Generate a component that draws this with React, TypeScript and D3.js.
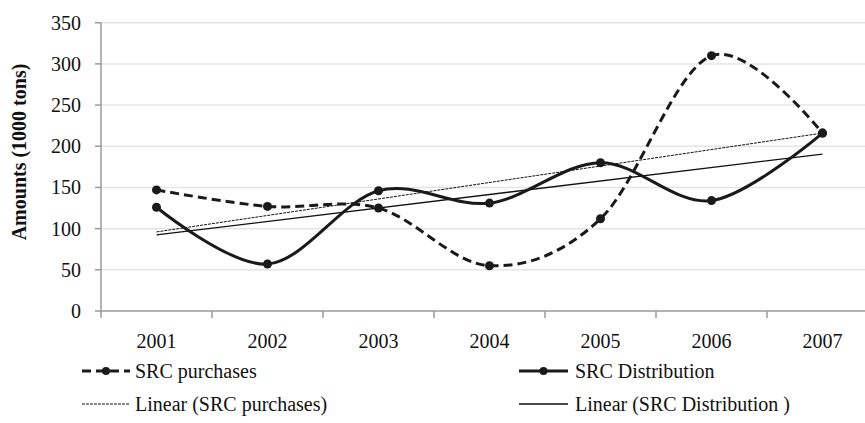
import React from "react";
import * as d3 from "d3";

const years = ["2001", "2002", "2003", "2004", "2005", "2006", "2007"];
const purchases = [147, 127, 125, 55, 112, 310, 216];
const distribution = [126, 57, 146, 131, 180, 134, 216];
const yTicks = [0, 50, 100, 150, 200, 250, 300, 350];

const W = 865;
const H = 423;
const FONT = '"Liberation Serif", "Times New Roman", Times, serif';
const txt = { fontFamily: FONT } as React.CSSProperties;

function linearFit(vals: number[]) {
  const n = vals.length;
  const xs = vals.map((_, i) => i + 1);
  const mx = d3.mean(xs)!;
  const my = d3.mean(vals)!;
  let num = 0, den = 0;
  xs.forEach((x, i) => { num += (x - mx) * (vals[i] - my); den += (x - mx) * (x - mx); });
  const slope = num / den;
  const icpt = my - slope * mx;
  return [icpt + slope * 1, icpt + slope * n];
}

export default function App() {
  const x = d3.scaleBand<string>().domain(years).range([101, 878]);
  const cx = (yr: string) => x(yr)! + x.bandwidth() / 2;
  const y = d3.scaleLinear().domain([0, 350]).range([311, 22.7]);

  const line = d3.line<number>()
    .x((_, i) => cx(years[i]))
    .y((d) => y(d))
    .curve(d3.curveCardinal.tension(0));

  const tp = linearFit(purchases);
  const td = linearFit(distribution);
  const first = cx(years[0]);
  const last = cx(years[years.length - 1]);

  const tickXs = years.map((yr) => x(yr)!).concat([x(years[years.length - 1])! + x.bandwidth()]);

  return (
    <svg width={W} height={H} style={{ position: "absolute", left: 0, top: 0, background: "#fff", fontFamily: FONT }}>
      {/* gridlines */}
      {yTicks.filter((t) => t > 0).map((t) => (
        <line key={t} x1={101} x2={878} y1={y(t)} y2={y(t)} stroke="#e4e4e4" strokeWidth={1.5} />
      ))}
      {/* y axis */}
      <line x1={101} x2={101} y1={y(350)} y2={y(0)} stroke="#9a9a9a" strokeWidth={1.5} />
      {yTicks.map((t) => (
        <g key={t}>
          <line x1={95} x2={101} y1={y(t)} y2={y(t)} stroke="#9a9a9a" strokeWidth={1.5} />
          <text x={81} y={y(t)} dy="0.35em" textAnchor="end" fontSize={20} fill="#111" style={txt}>{t}</text>
        </g>
      ))}
      {/* x axis */}
      <line x1={101} x2={878} y1={y(0)} y2={y(0)} stroke="#9a9a9a" strokeWidth={1.5} />
      {tickXs.map((tx, i) => (
        <line key={i} x1={tx} x2={tx} y1={y(0)} y2={y(0) + 7} stroke="#9a9a9a" strokeWidth={1.5} />
      ))}
      {years.map((yr) => (
        <text key={yr} x={cx(yr)} y={348} textAnchor="middle" fontSize={20} fill="#111" style={txt}>{yr}</text>
      ))}
      {/* y title */}
      <text transform={`translate(26,152) rotate(-90)`} textAnchor="middle" fontSize={20} fontWeight="bold" fill="#111" style={txt}>
        Amounts (1000 tons)
      </text>

      {/* trend lines */}
      <line x1={first} x2={last} y1={y(tp[0])} y2={y(tp[1])} stroke="#111" strokeWidth={1} strokeDasharray="3,1" />
      <line x1={first} x2={last} y1={y(td[0])} y2={y(td[1])} stroke="#111" strokeWidth={1.3} />

      {/* series */}
      <path d={line(purchases)!} fill="none" stroke="#1a1a1a" strokeWidth={3} strokeDasharray="9,5" />
      <path d={line(distribution)!} fill="none" stroke="#1a1a1a" strokeWidth={3} />
      {purchases.map((v, i) => (
        <circle key={"p" + i} cx={cx(years[i])} cy={y(v)} r={4.5} fill="#1a1a1a" />
      ))}
      {distribution.map((v, i) => (
        <circle key={"d" + i} cx={cx(years[i])} cy={y(v)} r={4.5} fill="#1a1a1a" />
      ))}

      {/* legend */}
      <g>
        <line x1={82} x2={130} y1={371} y2={371} stroke="#1a1a1a" strokeWidth={3} strokeDasharray="9,5" />
        <circle cx={106} cy={371} r={4} fill="#1a1a1a" />
        <text x={135} y={378} fontSize={20} fill="#111" style={txt}>SRC purchases</text>

        <line x1={519} x2={568} y1={371} y2={371} stroke="#1a1a1a" strokeWidth={3} />
        <circle cx={543.5} cy={371} r={4} fill="#1a1a1a" />
        <text x={575} y={378} fontSize={20} fill="#111" style={txt}>SRC Distribution</text>

        <line x1={82} x2={130} y1={404} y2={404} stroke="#111" strokeWidth={1} strokeDasharray="3,1" />
        <text x={135} y={411} fontSize={20} fill="#111" style={txt}>Linear (SRC purchases)</text>

        <line x1={519} x2={568} y1={404} y2={404} stroke="#111" strokeWidth={1.3} />
        <text x={575} y={411} fontSize={20} fill="#111" style={txt}>Linear (SRC Distribution )</text>
      </g>
    </svg>
  );
}
